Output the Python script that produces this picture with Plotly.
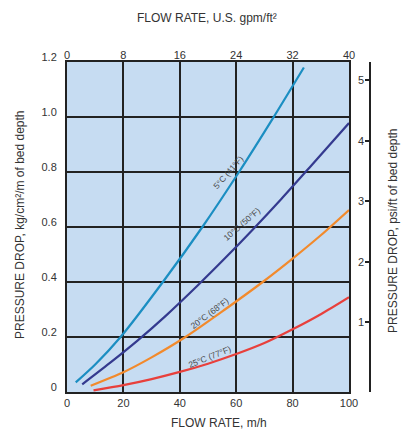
import plotly.graph_objects as go

# ---- data ----
x_5c = [3.1, 10, 19, 34, 48, 61, 73, 84]
y_5c = [0.035, 0.10, 0.20, 0.40, 0.60, 0.80, 0.995, 1.18]

x_10c = [5.4, 15, 25, 35, 46.6, 56, 66, 76, 86.5, 100]
y_10c = [0.028, 0.104, 0.187, 0.277, 0.39, 0.486, 0.592, 0.702, 0.822, 0.978]

x_20c = [8.4, 20, 30, 42, 56, 69.4, 80, 90, 100]
y_20c = [0.023, 0.072, 0.126, 0.20, 0.30, 0.40, 0.485, 0.57, 0.662]

x_25c = [9.4, 20, 30, 40, 50, 60, 70, 80, 90, 100]
y_25c = [0.006, 0.025, 0.047, 0.073, 0.103, 0.138, 0.178, 0.228, 0.283, 0.345]

series_names = ["5°C (41°F)", "10°C (50°F)", "20°C (68°F)", "25°C (77°F)"]
series_colors = ["#1b8ec2", "#343a8f", "#f28a2c", "#e8403c"]

x_ticks = [0, 20, 40, 60, 80, 100]
y_ticks = [0, 0.2, 0.4, 0.6, 0.8, 1.0, 1.2]
y_ticktext = ["0", "0.2", "0.4", "0.6", "0.8", "1.0", "1.2"]
top_ticks = [0, 8, 16, 24, 32, 40]
psi_ticks = [1, 2, 3, 4, 5]

# label anchor points (data coords) and angles
label_x = [57.3, 62.0, 50.7, 50.4]
label_y = [0.80, 0.612, 0.287, 0.129]
label_angle = [-49, -41, -37, -22]

FONT = "Liberation Sans, Arial, sans-serif"
TXT = "#333333"
GRID = "#222222"

fig = go.Figure()
for xs, ys, nm, col in zip([x_5c, x_10c, x_20c, x_25c],
                           [y_5c, y_10c, y_20c, y_25c],
                           series_names, series_colors):
    fig.add_trace(go.Scatter(x=xs, y=ys, mode="lines", name=nm,
                             line=dict(color=col, width=2.2, shape="spline", smoothing=0.8),
                             showlegend=False))

# invisible trace to activate secondary axes
fig.add_trace(go.Scatter(x=[0], y=[1], xaxis="x2", yaxis="y2", mode="markers",
                         marker=dict(opacity=0), showlegend=False, hoverinfo="skip"))

psi_lo, psi_hi = -0.15, 5.3
xdom = [0, 282 / 314]

fig.update_layout(
    width=401, height=431,
    margin=dict(l=67, r=20, t=62, b=39, autoexpand=False),
    paper_bgcolor="white",
    plot_bgcolor="#c6dcf2",
    font=dict(family=FONT, size=11, color=TXT),
    xaxis=dict(domain=xdom, range=[0, 100], tickvals=x_ticks,
               showgrid=True, gridcolor=GRID, gridwidth=2,
               showline=True, linecolor=GRID, linewidth=2, mirror=True,
               zeroline=False, ticks="", tickfont=dict(size=11, color=TXT)),
    yaxis=dict(range=[0, 1.2], tickvals=y_ticks, ticktext=y_ticktext,
               showgrid=True, gridcolor=GRID, gridwidth=2,
               showline=True, linecolor=GRID, linewidth=2, mirror=True,
               zeroline=False, ticks="", ticklabelshift=-5, ticklabelstandoff=6,
               tickfont=dict(size=11, color=TXT)),
    xaxis2=dict(overlaying="x", side="top", anchor="y", range=[0, 40],
                tickvals=top_ticks, showgrid=False, zeroline=False,
                showline=False, ticks="", tickfont=dict(size=11, color=TXT)),
    yaxis2=dict(overlaying="y", side="right", anchor="free",
                position=(370 - 67) / 314, range=[psi_lo, psi_hi],
                tickvals=[psi_lo] + psi_ticks + [psi_hi],
                ticktext=[""] + [str(v) for v in psi_ticks] + [""],
                ticks="inside", ticklen=4, tickwidth=2, tickcolor=GRID,
                ticklabelposition="inside",
                showline=True, linecolor=GRID, linewidth=2,
                showgrid=False, zeroline=False, tickfont=dict(size=11, color=TXT)),
)

annots = [
    dict(text="FLOW RATE, U.S. gpm/ft²", x=(207 - 67) / 314, y=1 + (62 - 18) / 330),
    dict(text="FLOW RATE, m/h", x=(219 - 67) / 314, y=-(423 - 392) / 330),
    dict(text="PRESSURE DROP, kg/cm²/m of bed depth", x=(20 - 67) / 314,
         y=(392 - 225) / 330, textangle=-90),
    dict(text="PRESSURE DROP, psi/ft of bed depth", x=(393 - 67) / 314,
         y=(392 - 231) / 330, textangle=-90),
]
for a in annots:
    a.update(xref="paper", yref="paper", showarrow=False, xanchor="center",
             yanchor="middle", font=dict(size=12, color=TXT))
for nm, lx, ly, ang in zip(series_names, label_x, label_y, label_angle):
    annots.append(dict(text=nm, x=lx, y=ly, xref="x", yref="y", showarrow=False,
                       xanchor="center", yanchor="middle",
                       textangle=ang, font=dict(size=8.5, color="#4a4a4a")))
fig.update_layout(annotations=annots)

fig.write_html("out.html",
               config={"displayModeBar": False},
               post_script="document.body.style.margin='0';document.body.style.overflow='hidden';")
